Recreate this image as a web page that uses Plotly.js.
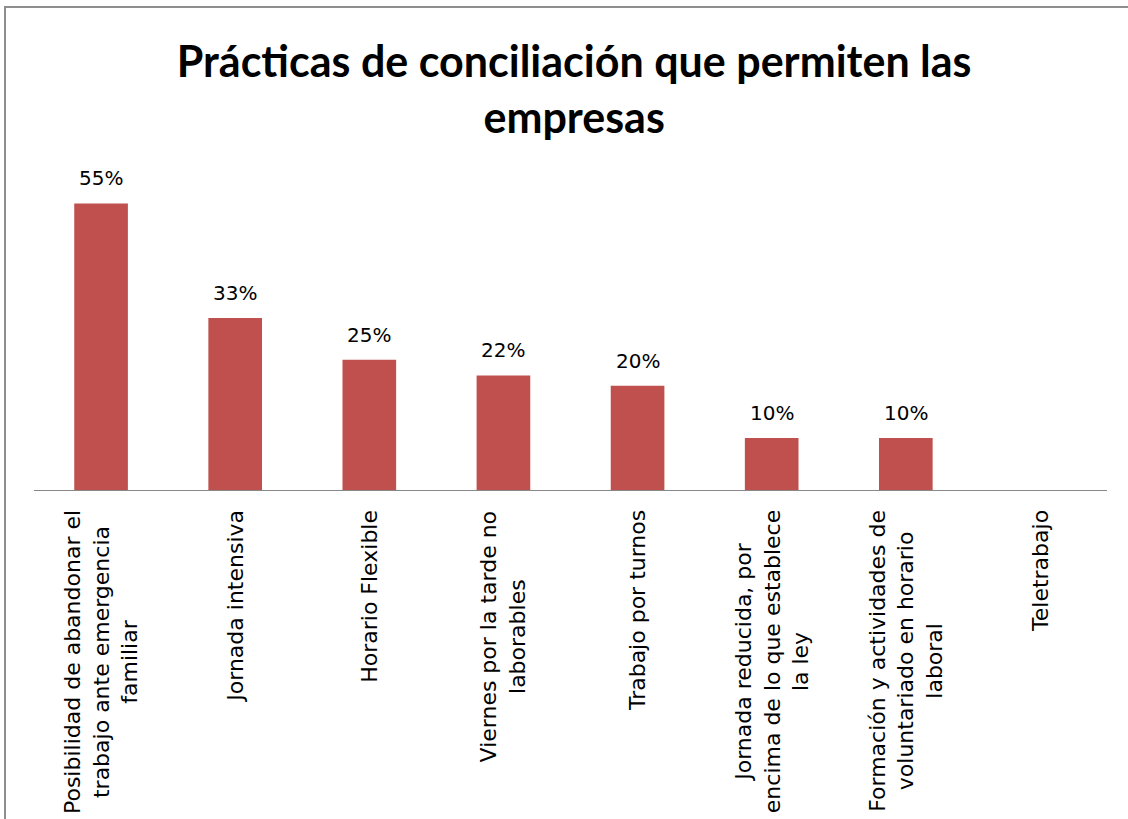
<!DOCTYPE html>
<html>
<head>
<meta charset="utf-8">
<script src="https://cdn.plot.ly/plotly-3.0.1.min.js"></script>
<style>
  html, body { margin: 0; padding: 0; background: #ffffff; }
  #frame { position: absolute; left: 4px; top: 6px; width: 1200px; height: 900px;
           border-left: 2px solid #8e8e8e; border-top: 2px solid #8e8e8e; }
  #chart { position: absolute; left: 0; top: 0; width: 1128px; height: 819px; }
</style>
</head>
<body>
<div id="frame"></div>
<div id="chart"></div>
<script>
const chartTitle = "Prácticas de conciliación que permiten las<br>empresas";

const categories = [
  "Posibilidad de abandonar el<br>trabajo ante emergencia<br>familiar",
  "Jornada intensiva",
  "Horario Flexible",
  "Viernes por la tarde no<br>laborables",
  "Trabajo por turnos",
  "Jornada reducida, por<br>encima de lo que establece<br>la ley",
  "Formación y actividades de<br>voluntariado en horario<br>laboral",
  "Teletrabajo"
];

const values = [55, 33, 25, 22, 20, 10, 10, null];

const valueLabels = ["55%", "33%", "25%", "22%", "20%", "10%", "10%", ""];

const barColor = "#C0504D";

const annotations = [];
categories.forEach((c, i) => {
  annotations.push({
    x: c, xref: "x", y: 0, yref: "paper",
    text: c, textangle: -90, showarrow: false,
    xanchor: "center", yanchor: "top", align: "center",
    yshift: -18,
    font: { family: "DejaVu Sans", size: 22, color: "#000000" }
  });
  if (values[i] !== null && valueLabels[i]) {
    annotations.push({
      x: c, xref: "x", y: values[i], yref: "y",
      text: valueLabels[i], showarrow: false,
      xanchor: "center", yanchor: "bottom",
      yshift: 11,
      font: { family: "DejaVu Sans", size: 20, color: "#000000" }
    });
  }
});

const data = [{
  type: "bar",
  x: categories,
  y: values,
  marker: { color: barColor },
  hoverinfo: "x+y"
}];

const layout = {
  width: 1128, height: 819,
  margin: { l: 34, r: 21, t: 150, b: 329, pad: 0 },
  paper_bgcolor: "rgba(0,0,0,0)",
  plot_bgcolor: "rgba(0,0,0,0)",
  bargap: 0.6,
  showlegend: false,
  title: {
    text: chartTitle,
    font: { family: "Lato", size: 43, color: "#000000", weight: "bold" },
    x: 0.509, xref: "container", xanchor: "center",
    y: 0.906, yref: "container", yanchor: "top"
  },
  xaxis: {
    type: "category",
    showticklabels: false,
    ticks: "",
    showline: true, linecolor: "#888888", linewidth: 1,
    showgrid: false, zeroline: false
  },
  yaxis: {
    range: [0, 65.26],
    visible: false,
    showgrid: false, zeroline: false
  },
  annotations: annotations
};

Plotly.newPlot("chart", data, layout, { displayModeBar: false, staticPlot: true });
</script>
</body>
</html>
